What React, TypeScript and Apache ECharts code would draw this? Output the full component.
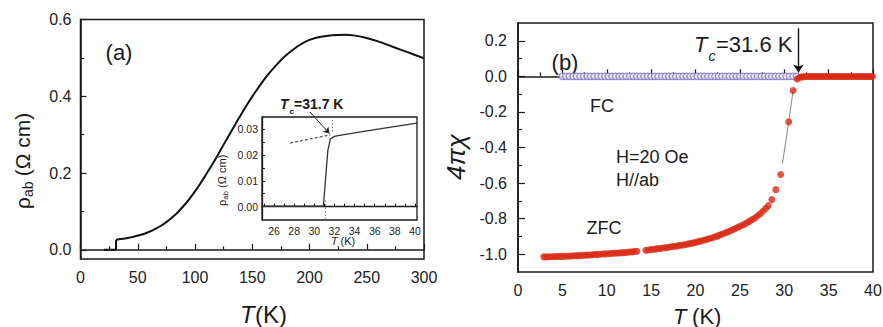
import React, { useEffect, useRef } from 'react';
import * as echarts from 'echarts';

const FONT = '"Liberation Sans", Arial, Helvetica, sans-serif';
const INK = '#1a1a1a';

// ---------- Panel (a): in-plane resistivity ----------
const A_STEP_T = [20.5, 31.0, 31.1];
const A_STEP_RHO = [0.0, 0.0, 0.026];
const A_T = [31.1, 35, 40, 45, 50, 55, 60, 65, 70, 75, 80, 85, 90, 95, 100, 105, 110, 115, 120, 125, 130, 135, 140, 145,
  150, 155, 160, 165, 170, 175, 180, 185, 190, 195, 200, 210, 220, 230, 240, 250, 260, 270, 280, 290, 300];
const A_RHO = [0.026, 0.028, 0.03, 0.033, 0.037, 0.041, 0.047, 0.054, 0.062, 0.072, 0.084, 0.098, 0.114, 0.132, 0.152,
  0.174, 0.198, 0.222, 0.247, 0.274, 0.3, 0.326, 0.351, 0.376, 0.399, 0.421, 0.442, 0.461, 0.478, 0.494, 0.508, 0.52,
  0.531, 0.54, 0.547, 0.555, 0.559, 0.56, 0.558, 0.552, 0.543, 0.532, 0.521, 0.51, 0.499];
const A_Y_LABELS = [0, 0.2, 0.4, 0.6];
const A_Y_MINOR = [0.1, 0.3, 0.5];

// inset
const INSET_T = [24.8, 30.9, 31.1, 31.35, 31.6, 32.0, 32.5, 36.0, 40.2];
const INSET_RHO = [0.0002, 0.0002, 0.01, 0.022, 0.0262, 0.0272, 0.0276, 0.0298, 0.0323];
const INSET_EXT_T = [27.6, 31.6];
const INSET_EXT_RHO = [0.0246, 0.0278];
const INSET_X_LABELS = [26, 28, 30, 32, 34, 36, 38, 40];
const INSET_X_TICKS = [25, 26, 27, 28, 29, 30, 31, 32, 33, 34, 35, 36, 37, 38, 39, 40];
const INSET_Y_LABELS = [0, 0.01, 0.02, 0.03];
const INSET_Y_TICKS = [0, 0.005, 0.01, 0.015, 0.02, 0.025, 0.03];

// ---------- Panel (b): susceptibility ----------
const FC_T = [5.0, 5.4, 5.8, 6.2, 6.6, 7.0, 7.4, 7.8, 8.2, 8.6, 9.0, 9.4, 9.8, 10.2, 10.6, 11.0, 11.4, 11.8, 12.2, 12.6,
  13.0, 13.4, 13.8, 14.2, 14.6, 15.0, 15.4, 15.8, 16.2, 16.6, 17.0, 17.4, 17.8, 18.2, 18.6, 19.0, 19.4, 19.8, 20.2, 20.6,
  21.0, 21.4, 21.8, 22.2, 22.6, 23.0, 23.4, 23.8, 24.2, 24.6, 25.0, 25.4, 25.8, 26.2, 26.6, 27.0, 27.4, 27.8, 28.2, 28.6,
  29.0, 29.4, 29.8, 30.2, 30.6, 31.0, 31.4];
const FC_CHI = [0.0, 0.0, 0.0, 0.0, 0.0, 0.0, 0.0, 0.0, 0.0, 0.0, 0.0, 0.0, 0.0, 0.0, 0.0, 0.0, 0.0, 0.0, 0.0, 0.0,
  0.0, 0.0, 0.0, 0.0, 0.0, 0.0, 0.0, 0.0, 0.0, 0.0, 0.0, 0.0, 0.0, 0.0, 0.0, 0.0, 0.0, 0.0, 0.0, 0.0,
  0.0, 0.0, 0.0, 0.0, 0.0, 0.0, 0.0, 0.0, 0.0, 0.0, 0.0, 0.0, 0.0, 0.0, 0.0, 0.0, 0.0, 0.0, 0.0, 0.0,
  0.0, 0.0, 0.0, 0.0, 0.0, 0.0, 0.0];

const ZFC_T = [2.9, 3.2, 3.5, 3.8, 4.1, 4.4, 4.7, 5.0, 5.3, 5.6, 5.9, 6.2, 6.5, 6.8, 7.1, 7.4, 7.7, 8.0, 8.3, 8.6,
  8.9, 9.2, 9.5, 9.8, 10.1, 10.4, 10.7, 11.0, 11.3, 11.6, 11.9, 12.2, 12.5, 12.8, 13.1, 13.4,
  14.4, 14.7, 15.0, 15.3, 15.6, 15.9, 16.2, 16.5, 16.8, 17.1, 17.4, 17.7, 18.0, 18.3, 18.6, 18.9, 19.2, 19.5, 19.8,
  20.1, 20.4, 20.7, 21.0, 21.3, 21.6, 21.9, 22.2, 22.5, 22.8, 23.1, 23.4, 23.7, 24.0, 24.3, 24.6, 24.9, 25.2, 25.5,
  25.8, 26.1, 26.4, 26.7, 27.0, 27.3, 27.6, 27.9, 28.2, 28.6, 29.05, 29.6, 30.5, 31.0, 31.45];
const ZFC_CHI = [-1.015, -1.015, -1.014, -1.014, -1.013, -1.013, -1.012, -1.012, -1.011, -1.011, -1.01, -1.009, -1.009, -1.008,
  -1.007, -1.006, -1.005, -1.004, -1.003, -1.002, -1.001, -1.0, -0.999, -0.998, -0.997, -0.996, -0.995, -0.994, -0.993,
  -0.992, -0.991, -0.99, -0.988, -0.987, -0.985, -0.983,
  -0.978, -0.976, -0.974, -0.972, -0.97, -0.968, -0.966, -0.964, -0.962, -0.959, -0.957, -0.955, -0.953, -0.95, -0.948,
  -0.945, -0.942, -0.939, -0.936, -0.932, -0.928, -0.924, -0.92, -0.916, -0.912, -0.907, -0.902, -0.897, -0.891, -0.885,
  -0.879, -0.873, -0.867, -0.86, -0.853, -0.846, -0.839, -0.831, -0.823, -0.814, -0.805, -0.796, -0.784, -0.772, -0.758,
  -0.743, -0.727, -0.693, -0.637, -0.552, -0.256, -0.08, -0.015];

const ABOVE_T = [31.7, 31.95, 32.2, 32.45, 32.7, 32.95, 33.2, 33.45, 33.7, 33.95, 34.2, 34.45, 34.7, 34.95, 35.2, 35.45, 35.7,
  35.95, 36.2, 36.45, 36.7, 36.95, 37.2, 37.45, 37.7, 37.95, 38.2, 38.45, 38.7, 38.95, 39.2, 39.45, 39.7, 39.95];
const ABOVE_CHI = [-0.006, -0.003, -0.002, -0.001, -0.001, -0.001, -0.001, -0.001, -0.001, -0.001, -0.001, -0.001, -0.001,
  -0.001, -0.001, -0.001, -0.001, -0.001, -0.001, -0.001, -0.001, -0.001, -0.001, -0.001, -0.001, -0.001, -0.001, -0.001,
  -0.001, -0.001, -0.001, -0.001, -0.001, -0.001];

const LINK_T = [29.8, 30.5, 31.0];
const LINK_CHI = [-0.49, -0.256, -0.08];

const B_Y_LABELS = [-1.0, -0.8, -0.6, -0.4, -0.2, 0.0, 0.2];
const B_Y_MINOR = [-0.9, -0.7, -0.5, -0.3, -0.1, 0.1];

const zip = (xs: number[], ys: number[]) => xs.map((x, i) => [x, ys[i]]);

const txt = (text: string, x: number, y: number, size: number, opts: any = {}) => ({
  type: 'text',
  x,
  y,
  silent: true,
  style: {
    text,
    fontSize: size,
    fontFamily: FONT,
    fontStyle: opts.italic ? 'italic' : 'normal',
    fontWeight: opts.bold ? 'bold' : 'normal',
    fill: opts.fill || INK,
    align: opts.align || 'left',
    textAlign: opts.align || 'left',
    verticalAlign: 'middle',
    textVerticalAlign: 'middle',
  },
});

const labelStyle = (size: number) => ({ color: '#222', fontSize: size, fontFamily: FONT });

function buildOption(): any {
  return {
    animation: false,
    backgroundColor: '#fff',
    grid: [
      { left: 80.5, top: 19.5, width: 343.5, height: 239.5, show: true, borderColor: INK, borderWidth: 1.5, containLabel: false, outerBoundsMode: 'none' },
      { left: 262, top: 117, width: 155, height: 103, show: true, borderColor: INK, borderWidth: 1.3, backgroundColor: '#fff', containLabel: false, outerBoundsMode: 'none' },
      { left: 518, top: 23, width: 355, height: 249, show: true, borderColor: INK, borderWidth: 1.5, containLabel: false, outerBoundsMode: 'none' },
    ],
    xAxis: [
      {
        type: 'value', gridIndex: 0, min: 0, max: 300, interval: 50,
        axisLine: { lineStyle: { color: INK, width: 1.5 } },
        axisTick: { inside: true, length: 6, lineStyle: { color: INK, width: 1.2 } },
        minorTick: { show: true, splitNumber: 2, length: 3.5, lineStyle: { color: INK, width: 1.2 } },
        axisLabel: { ...labelStyle(16), margin: 10 },
        splitLine: { show: false },
      },
      {
        type: 'value', gridIndex: 1, min: 24.8, max: 40.2,
        axisLine: { lineStyle: { color: INK, width: 1.3 } },
        axisTick: { inside: true, length: 3, customValues: INSET_X_TICKS, lineStyle: { color: INK } },
        axisLabel: { ...labelStyle(10.5), margin: 5, customValues: INSET_X_LABELS },
        splitLine: { show: false },
      },
      {
        type: 'value', gridIndex: 2, min: 0, max: 40, interval: 5,
        axisLine: { lineStyle: { color: INK, width: 1.5 } },
        axisTick: { inside: true, length: 7, lineStyle: { color: INK, width: 1.2 } },
        minorTick: { show: true, splitNumber: 2, length: 4, lineStyle: { color: INK, width: 1.2 } },
        axisLabel: { ...labelStyle(16), margin: 10 },
        splitLine: { show: false },
      },
    ],
    yAxis: [
      {
        type: 'value', gridIndex: 0, min: -0.024, max: 0.6, position: 'left',
        axisLine: { lineStyle: { color: INK, width: 1.5 } },
        axisTick: { inside: true, length: 6, customValues: A_Y_LABELS, lineStyle: { color: INK, width: 1.2 } },
        axisLabel: { ...labelStyle(16), margin: 9, customValues: A_Y_LABELS, formatter: (v: number) => v.toFixed(1) },
        splitLine: { show: false },
      },
      {
        type: 'value', gridIndex: 0, min: -0.024, max: 0.6, position: 'left', offset: 0,
        axisLine: { show: false },
        axisTick: { inside: true, length: 3.5, customValues: A_Y_MINOR, lineStyle: { color: INK, width: 1.2 } },
        axisLabel: { show: false },
        splitLine: { show: false },
      },
      {
        type: 'value', gridIndex: 1, min: -0.0052, max: 0.0347, position: 'left',
        axisLine: { lineStyle: { color: INK, width: 1.3 } },
        axisTick: { inside: true, length: 3, customValues: INSET_Y_TICKS, lineStyle: { color: INK } },
        axisLabel: { ...labelStyle(10.5), margin: 4, customValues: INSET_Y_LABELS, formatter: (v: number) => v.toFixed(2) },
        splitLine: { show: false },
      },
      {
        type: 'value', gridIndex: 2, min: -1.1, max: 0.3, position: 'left',
        axisLine: { lineStyle: { color: INK, width: 1.5 } },
        axisTick: { inside: true, length: 7, customValues: B_Y_LABELS, lineStyle: { color: INK, width: 1.2 } },
        axisLabel: { ...labelStyle(16), margin: 11, customValues: B_Y_LABELS, formatter: (v: number) => v.toFixed(1) },
        splitLine: { show: false },
      },
      {
        type: 'value', gridIndex: 2, min: -1.1, max: 0.3, position: 'left', offset: 0,
        axisLine: { show: false },
        axisTick: { inside: true, length: 4, customValues: B_Y_MINOR, lineStyle: { color: INK, width: 1.2 } },
        axisLabel: { show: false },
        splitLine: { show: false },
      },
    ],
    series: [
      {
        type: 'line', xAxisIndex: 0, yAxisIndex: 0, data: zip(A_STEP_T, A_STEP_RHO),
        showSymbol: false, lineStyle: { color: '#111', width: 2 }, silent: true,
      },
      {
        type: 'line', xAxisIndex: 0, yAxisIndex: 0, data: zip(A_T, A_RHO), smooth: 0.25,
        showSymbol: false, lineStyle: { color: '#111', width: 2 }, silent: true,
      },
      {
        type: 'line', xAxisIndex: 1, yAxisIndex: 2, data: zip(INSET_T, INSET_RHO), z: 5,
        showSymbol: false, lineStyle: { color: '#333', width: 1.3 }, silent: true,
        markLine: {
          silent: true, symbol: ['none', 'arrow'], symbolSize: 6,
          label: { show: false },
          lineStyle: { color: '#222', width: 1, type: 'solid' },
          data: [[{ x: 310, y: 112 }, { coord: [31.5, 0.0283] }]],
        },
      },
      {
        type: 'line', xAxisIndex: 1, yAxisIndex: 2, data: zip(INSET_EXT_T, INSET_EXT_RHO), z: 5,
        showSymbol: false, lineStyle: { color: '#555', width: 1.3, type: [3, 2] }, silent: true,
        markLine: {
          silent: true, symbol: ['none', 'none'],
          label: { show: false },
          lineStyle: { color: '#777', width: 1, type: [1.5, 2] },
          data: [
            [{ coord: [31.05, -0.005] }, { coord: [31.05, 0.003] }],
            [{ coord: [31.75, 0.029] }, { coord: [31.75, 0.0335] }],
          ],
        },
      },
      {
        type: 'scatter', xAxisIndex: 2, yAxisIndex: 3, data: zip(FC_T, FC_CHI), symbolSize: 6.5, z: 3,
        itemStyle: { color: '#f6f4fc', borderColor: '#7f70c6', borderWidth: 1.3 }, silent: true,
      },
      {
        type: 'line', xAxisIndex: 2, yAxisIndex: 3, data: zip(LINK_T, LINK_CHI), z: 2,
        showSymbol: false, lineStyle: { color: '#888', width: 1 }, silent: true,
        markLine: {
          silent: true, symbol: ['none', 'arrow'], symbolSize: 8,
          label: { show: false },
          lineStyle: { color: '#111', width: 1.4, type: 'solid' },
          data: [[{ coord: [31.6, 0.27] }, { coord: [31.6, 0.022] }]],
        },
      },
      {
        type: 'scatter', xAxisIndex: 2, yAxisIndex: 3, data: zip(ZFC_T, ZFC_CHI), symbolSize: 7, z: 4,
        itemStyle: { color: '#d92b15' }, silent: true,
      },
      {
        type: 'scatter', xAxisIndex: 2, yAxisIndex: 3, data: zip(ABOVE_T, ABOVE_CHI), symbolSize: 7, z: 4,
        itemStyle: { color: '#d92b15' }, silent: true,
      },
    ],
    graphic: [
      // panel (a)
      txt('(a)', 119, 52, 22, { align: 'center' }),
      {
        type: 'group', x: 22, y: 160, rotation: Math.PI / 2, silent: true,
        children: [
          txt('ρ', -49, 0, 21),
          txt('ab', -37, 6, 14),
          txt(' (Ω cm)', -22, 0, 21),
        ],
      },
      txt('T', 240, 314, 24, { italic: true }),
      txt('(K)', 255, 314, 24),
      // inset
      txt('T', 280, 104, 14, { italic: true, bold: true }),
      txt('c', 289.5, 111, 8, { bold: true }),
      txt('=31.7 K', 294, 104, 14, { bold: true }),
      {
        type: 'group', x: 222, y: 180, rotation: Math.PI / 2, silent: true,
        children: [
          txt('ρ', -26, 0, 11),
          txt('ab', -19.5, 3.5, 7.5),
          txt(' (Ω cm)', -11, 0, 11),
        ],
      },
      txt('T', 331, 241, 11, { italic: true }),
      txt(' (K)', 337.5, 241, 11),
      // panel (b)
      txt('(b)', 565, 62, 22, { align: 'center' }),
      txt('T', 694, 44, 22, { italic: true }),
      txt('c', 708.5, 56, 14, { italic: true }),
      txt('=31.6 K', 716, 44, 22),
      txt('FC', 602, 106, 18, { align: 'center' }),
      txt('H=20 Oe', 616, 157, 18),
      txt('H//ab', 616, 180, 18),
      txt('ZFC', 604, 228, 18, { align: 'center' }),
      {
        type: 'text', x: 456, y: 157, rotation: Math.PI / 2, silent: true,
        style: {
          text: '4πχ', fontSize: 26, fontFamily: FONT, fontStyle: 'italic', fill: INK,
          align: 'center', textAlign: 'center', verticalAlign: 'middle', textVerticalAlign: 'middle',
        },
      },
      txt('T', 673, 316, 22, { italic: true }),
      txt(' (K)', 686, 316, 22),
    ],
  };
}

export default function App() {
  const ref = useRef<HTMLDivElement>(null);
  useEffect(() => {
    document.body.style.margin = '0';
    const chart = echarts.init(ref.current as HTMLDivElement, null, { renderer: 'svg' });
    chart.setOption(buildOption());
    return () => chart.dispose();
  }, []);
  return <div ref={ref} style={{ width: 883, height: 327, position: 'absolute', left: 0, top: 0, background: '#fff' }} />;
}
